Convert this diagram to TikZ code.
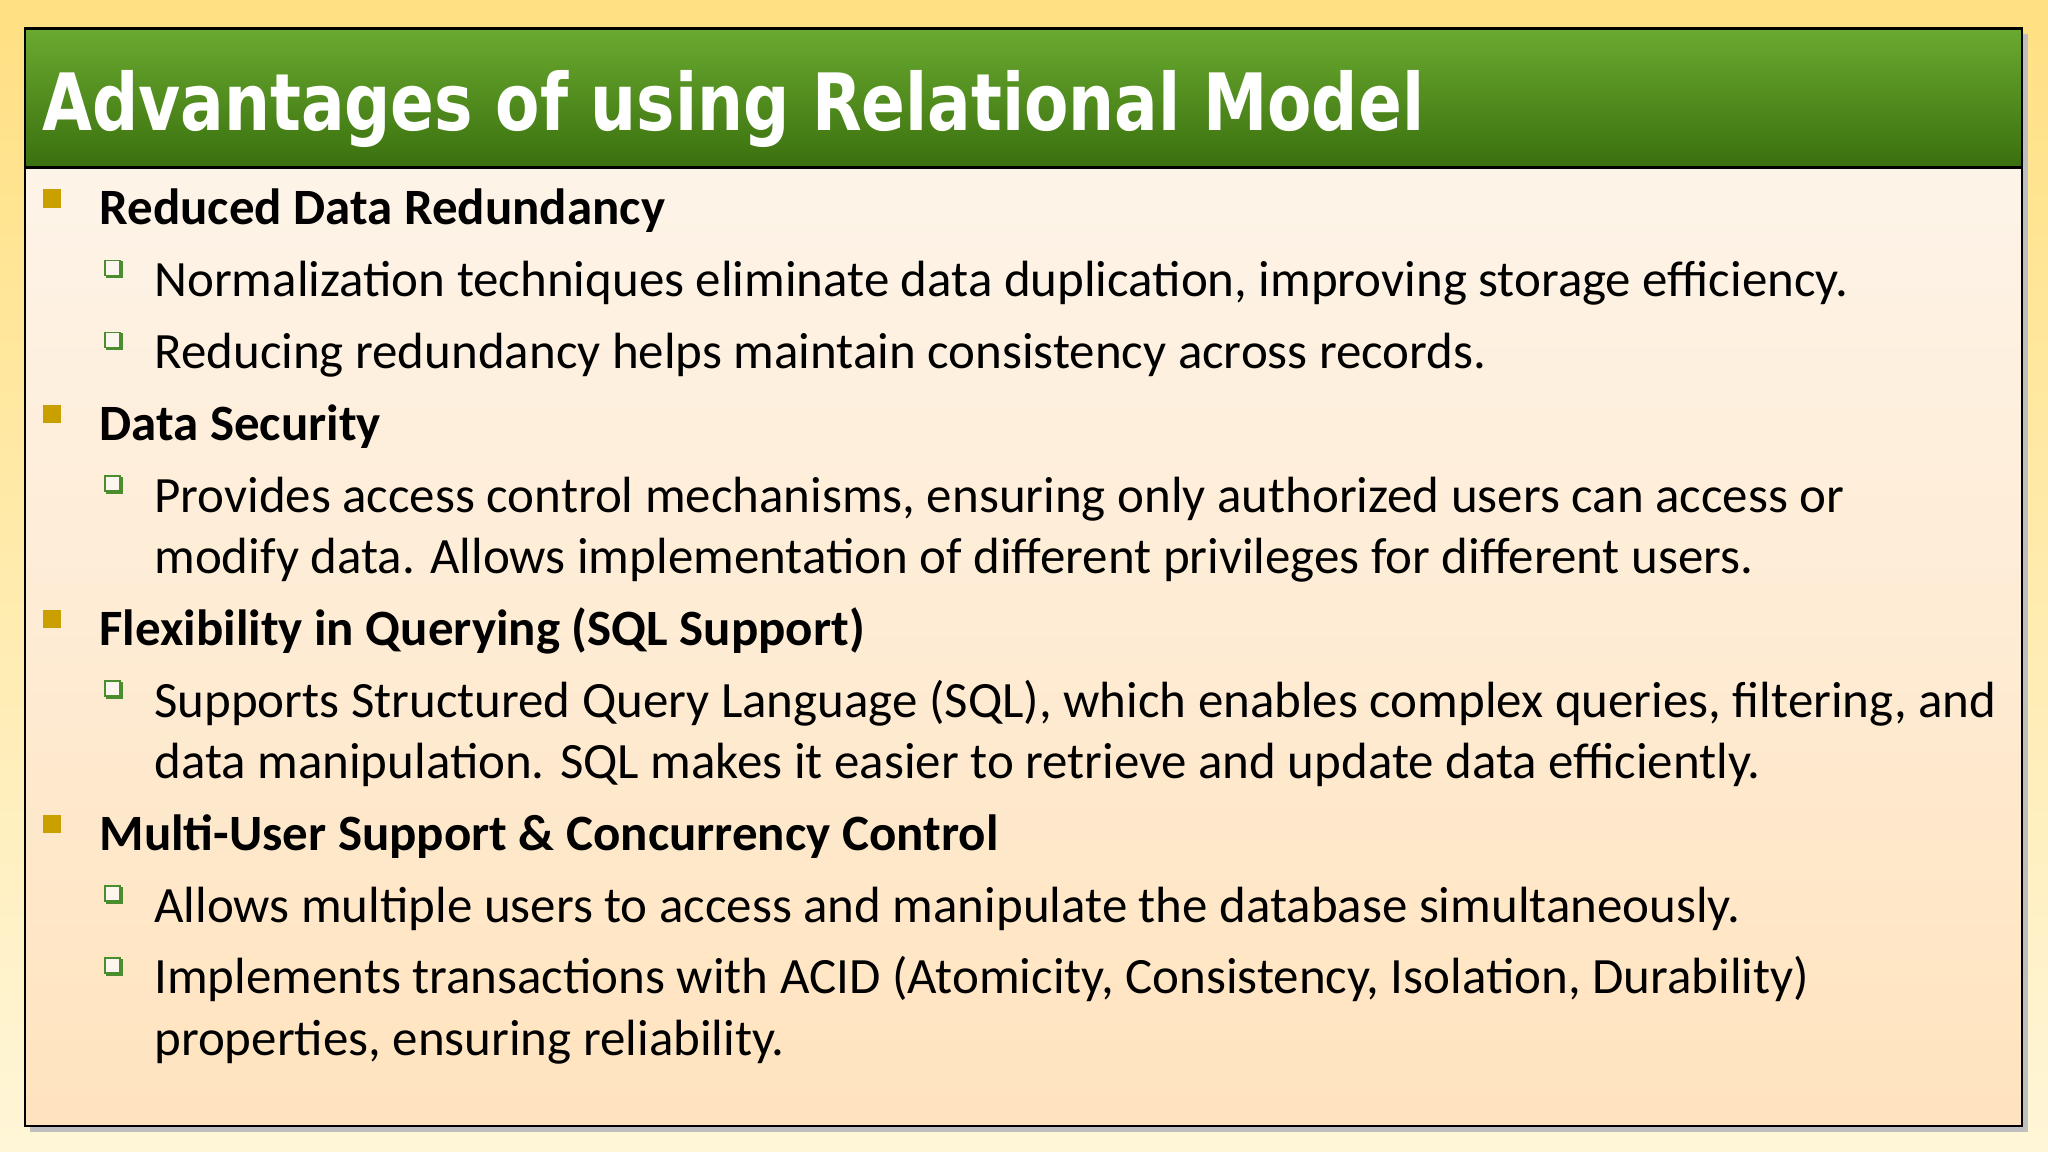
\documentclass[tikz,border=0pt]{standalone}
\usepackage{fontspec}
\setmainfont{Carlito}
\newfontfamily\titlefont{DejaVu Sans}
\definecolor{bgtop}{HTML}{FFE082}
\definecolor{bgbot}{HTML}{FFF6D8}
\definecolor{boxtop}{HTML}{FDF6EE}
\definecolor{boxbot}{HTML}{FFE3BE}
\definecolor{grtop}{HTML}{6AAA30}
\definecolor{grbot}{HTML}{3A700E}
\definecolor{gold}{HTML}{C9A000}
\definecolor{subgreen}{HTML}{4A8C2E}
\tikzset{
 x=1pt,y=-1pt,
 head/.style={anchor=base west,inner sep=0,font=\fontsize{39}{46}\selectfont\bfseries},
 body/.style={anchor=base west,inner sep=0,font=\fontsize{39}{46}\selectfont},
}
\newcommand{\hbul}[1]{\fill[gold] (33,#1-27) rectangle (47,#1-13);}
\newcommand{\sbul}[1]{\fill[subgreen] (81,#1-27) rectangle (94,#1-14);
 \fill[boxtop] (81,#1-27) rectangle (91.5,#1-16.5);
 \draw[subgreen,line width=1.2] (80.5,#1-27.5) rectangle (92,#1-16);}
\begin{document}
\begin{tikzpicture}
\useasboundingbox (0,0) rectangle (1568,882);
\shade[top color=bgtop,bottom color=bgbot] (0,0) rectangle (1568,882);
\fill[black!25] (23,26) rectangle (1553,867);
\shade[top color=boxtop,bottom color=boxbot] (19,22) rectangle (1548,862);
\shade[top color=grtop,bottom color=grbot] (19,22) rectangle (1548,128);
\draw[line width=2] (19,22) rectangle (1548,862);
\draw[line width=2.5] (19,128) -- (1548,128);
\node[anchor=base west,inner sep=0,text=white] (title) at (32,100)
 {\resizebox{1058pt}{46pt}{\titlefont\bfseries\fontsize{50}{60}\selectfont Advantages of using Relational Model}};
\hbul{172}\node[head] (h1) at (76,172) {Reduced Data Redundancy};
\sbul{227}\node[body] (s1) at (118,227) {Normalization techniques eliminate data duplication, improving storage efficiency.};
\sbul{282}\node[body] (s2) at (118,282) {Reducing redundancy helps maintain consistency across records.};
\hbul{337}\node[head] (h2) at (76,337) {Data Security};
\sbul{392}\node[body] (s3) at (118,392) {Provides access control mechanisms, ensuring only authorized users can access or};
\node[body] (s3b) at (118,439) {modify data. Allows implementation of different privileges for different users.};
\hbul{494}\node[head] (h3) at (76,494) {Flexibility in Querying (SQL Support)};
\sbul{549}\node[body] (s4) at (118,549) {Supports Structured Query Language (SQL), which enables complex queries, filtering, and};
\node[body] (s4b) at (118,596) {data manipulation. SQL makes it easier to retrieve and update data efficiently.};
\hbul{651}\node[head] (h4) at (76,651) {Multi-User Support \& Concurrency Control};
\sbul{706}\node[body] (s5) at (118,706) {Allows multiple users to access and manipulate the database simultaneously.};
\sbul{761}\node[body] (s6) at (118,761) {Implements transactions with ACID (Atomicity, Consistency, Isolation, Durability)};
\node[body] (s6b) at (118,808) {properties, ensuring reliability.};
\end{tikzpicture}
\end{document}
